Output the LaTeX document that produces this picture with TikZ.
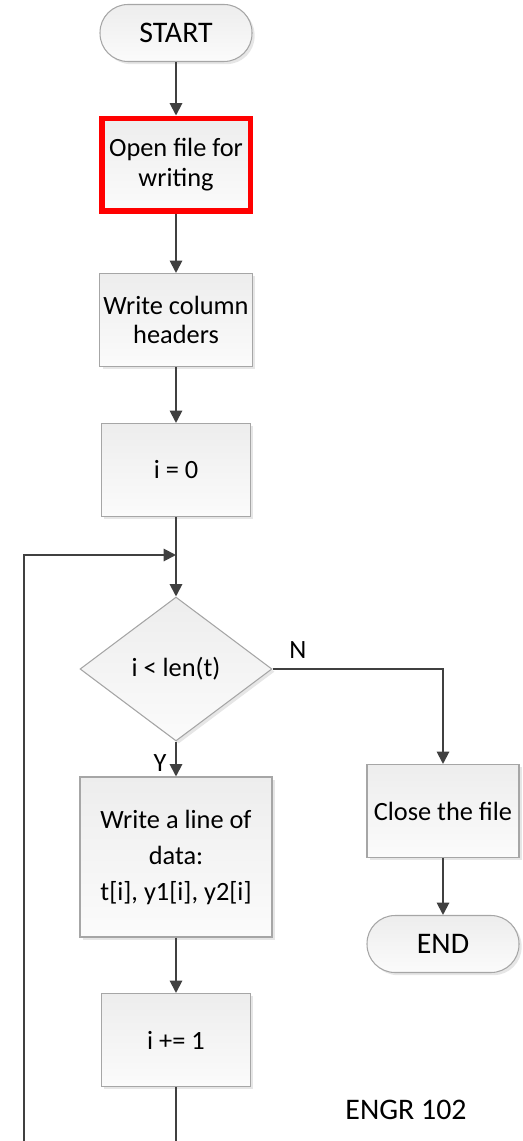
\documentclass[tikz,border=0pt]{standalone}
\usepackage{fontspec}
\setmainfont{Carlito}
\usepackage{tikz}
\usetikzlibrary{shapes.geometric,arrows.meta,shadows}

\begin{document}
\begin{tikzpicture}[x=0.02cm,y=-0.02cm,
	font=\fontsize{15}{17}\selectfont,
	shade/.style={top color=gray!14, bottom color=gray!3, draw=gray!70, line width=0.6pt,
		drop shadow={shadow xshift=1.5pt, shadow yshift=-1.5pt, opacity=0.2, fill=gray}},
	term/.style={shade, rounded corners=0.56cm, minimum width=3.04cm, minimum height=1.14cm, font=\fontsize{17}{20}\selectfont},
	proc/.style={shade, align=center, minimum width=2.98cm, minimum height=1.86cm, inner sep=2pt},
	dec/.style={shade, diamond, minimum width=3.84cm, minimum height=2.88cm, inner sep=0pt},
	flow/.style={draw=black!75, line width=1.1pt, -{Triangle[length=7pt,width=7pt]}}]
\useasboundingbox (0,0) rectangle (522,1141);
\clip (0,0) rectangle (522,1141);
%main column
\node[term] (start) at (176,33) {START};
\node[proc, draw=red, line width=3.4pt] (open) at (176,165) {Open file for\\writing};
\node[proc] (headers) at (176,320) {Write column\\headers};
\node[proc] (init) at (176,470) {i = 0};
\coordinate (merge) at (176,555);
\node[dec] (test) at (176,669) {i < len(t)};
\node[proc, minimum width=3.84cm, minimum height=3.2cm, font=\fontsize{15}{20.5}\selectfont] (data) at (176,857) {Write a line of\\data:\\t[i], y1[i], y2[i]};
\node[proc] (incr) at (176,1040) {i += 1};
%exit branch
\node[proc, minimum width=3.04cm] (close) at (443,811) {Close the file};
\node[term] (stop) at (443,944) {END};
%labels
\node (no) at (298,650) {N};
\node (yes) at (160,763) {Y};
\node[font=\fontsize{17}{20}\selectfont] (course) at (406,1110) {ENGR 102};
%connectors
\draw[flow] (start) -- (open);
\draw[flow] (open) -- (headers);
\draw[flow] (headers) -- (init);
\draw[flow] (init) -- (test);
\draw[flow] (test) -- (data);
\draw[flow] (data) -- (incr);
\draw[flow] (test.east) -| (close.north);
\draw[flow] (close) -- (stop);
%loop back
\coordinate (corner) at (24,555);
\draw[flow] (incr.south) |- (24,1200) -- (corner) -- (merge);
\end{tikzpicture}
\end{document}
